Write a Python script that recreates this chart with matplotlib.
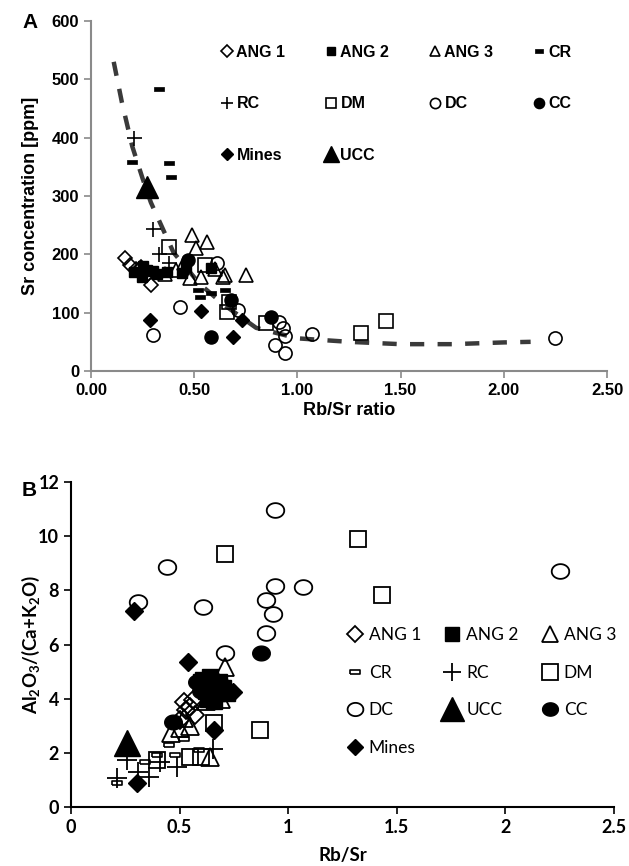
import matplotlib
matplotlib.use("Agg")
import matplotlib.pyplot as plt
import numpy as np

plt.rcParams['mathtext.fontset'] = 'custom'
plt.rcParams['mathtext.rm'] = 'Lato:bold'
plt.rcParams['mathtext.it'] = 'Lato:bold'
plt.rcParams['mathtext.bf'] = 'Lato:bold'

# ---------------- Panel A data (Rb/Sr ratio vs Sr ppm) ----------------
a_ang1_x = [0.165, 0.19, 0.22, 0.24, 0.27, 0.29]
a_ang1_y = [193, 182, 175, 179, 165, 147]
a_ang2_x = [0.21, 0.245, 0.27, 0.32, 0.37, 0.44, 0.46, 0.58, 0.25, 0.30]
a_ang2_y = [170, 162, 173, 167, 170, 168, 179, 177, 180, 172]
a_ang3_x = [0.36, 0.41, 0.48, 0.49, 0.51, 0.535, 0.56, 0.65, 0.64, 0.75, 0.45, 0.60]
a_ang3_y = [167, 173, 159, 233, 211, 162, 222, 165, 162, 165, 185, 175]
a_cr_x = [0.33, 0.20, 0.38, 0.39, 0.52, 0.53, 0.58, 0.65]
a_cr_y = [483, 359, 356, 332, 139, 127, 133, 139]
a_rc_x = [0.21, 0.30, 0.33, 0.38]
a_rc_y = [400, 244, 201, 185]
a_dm_x = [0.38, 0.55, 0.67, 0.66, 0.85, 1.31, 1.43]
a_dm_y = [213, 182, 119, 102, 82, 65, 86]
a_dc_x = [0.30, 0.43, 0.61, 0.91, 0.93, 0.94, 0.89, 0.94, 1.07, 2.25, 0.71]
a_dc_y = [62, 110, 185, 84, 74, 60, 45, 31, 64, 57, 105]
a_cc_x = [0.47, 0.58, 0.68, 0.87]
a_cc_y = [190, 59, 122, 93]
a_mines_x = [0.285, 0.535, 0.69, 0.73]
a_mines_y = [87, 103, 59, 87]
a_ucc_x = [0.27]
a_ucc_y = [316]
# trend curve
a_fit_x = [0.11, 0.15, 0.20, 0.25, 0.29, 0.40, 0.53, 0.65, 0.80, 1.00, 1.25, 1.50, 1.75, 2.00, 2.13]
a_fit_y = [530, 460, 385, 330, 289, 203, 148, 112, 74, 56, 50, 46, 46, 49, 50]

# ---------------- Panel B data (Rb/Sr vs Al2O3/(Ca+K2O)) ----------------
b_ang1_x = [0.52, 0.53, 0.55, 0.57, 0.50, 0.56]
b_ang1_y = [3.89, 3.58, 3.70, 3.40, 3.20, 3.95]
b_ang2_x = [0.60, 0.62, 0.65, 0.67, 0.63, 0.68, 0.70, 0.66, 0.72, 0.61, 0.64]
b_ang2_y = [4.60, 4.30, 4.50, 4.20, 4.00, 4.60, 4.40, 3.90, 4.20, 4.70, 4.80]
b_ang3_x = [0.71, 0.46, 0.64, 0.50, 0.55, 0.62, 0.72, 0.69, 0.52]
b_ang3_y = [5.18, 2.73, 1.86, 2.90, 3.00, 3.90, 4.40, 4.00, 3.30]
b_cr_x = [0.21, 0.34, 0.395, 0.48, 0.59, 0.45, 0.52]
b_cr_y = [0.87, 1.67, 1.92, 1.92, 2.10, 2.30, 2.50]
b_rc_x = [0.256, 0.21, 0.31, 0.36, 0.41, 0.49, 0.655]
b_rc_y = [1.73, 1.06, 1.30, 1.12, 1.67, 1.49, 2.16]
b_dm_x = [0.71, 1.32, 1.43, 0.87, 0.395, 0.55, 0.66, 0.60]
b_dm_y = [9.36, 9.91, 7.82, 2.84, 1.73, 1.86, 3.09, 1.86]
b_dc_x = [0.94, 0.44, 0.94, 1.07, 0.31, 0.61, 0.90, 0.93, 0.90, 2.25, 0.71]
b_dc_y = [10.96, 8.87, 8.15, 8.13, 7.58, 7.39, 7.64, 7.12, 6.41, 8.72, 5.67]
b_ucc_x = [0.26]
b_ucc_y = [2.35]
b_cc_x = [0.875, 0.47, 0.58, 0.60, 0.66]
b_cc_y = [5.69, 3.15, 4.60, 4.30, 4.70]
b_mines_x = [0.29, 0.54, 0.305, 0.66, 0.745]
b_mines_y = [7.23, 5.36, 0.87, 2.84, 4.25]

rect = [(-1, -0.45), (1, -0.45), (1, 0.45), (-1, 0.45), (-1, -0.45)]
_t = np.linspace(0, 2 * np.pi, 41)
ellipse = list(zip(np.cos(_t), 0.84 * np.sin(_t)))

W, H = 629, 866
fig = plt.figure(figsize=(W / 100, H / 100), dpi=100)

# ================= Panel A =================
fa = 'Liberation Sans'
axA = fig.add_axes([91 / W, 1 - 371 / H, (607 - 91) / W, (371 - 21) / H])
gray = '#8a8a8a'
axA.plot(a_fit_x, a_fit_y, color='#3a3a3a', lw=3.2, ls=(0, (3.2, 3.0)), zorder=1)

ms = 9
hA = {}
hA['ANG 1'] = axA.plot(a_ang1_x, a_ang1_y, ls='none', marker='D', ms=ms * 0.8, mfc='none', mec='k', mew=1.2)[0]
hA['ANG 2'] = axA.plot(a_ang2_x, a_ang2_y, ls='none', marker='s', ms=ms * 0.85, mfc='k', mec='k')[0]
hA['ANG 3'] = axA.plot(a_ang3_x, a_ang3_y, ls='none', marker='^', ms=ms * 1.1, mfc='none', mec='k', mew=1.2)[0]
hA['CR'] = axA.plot(a_cr_x, a_cr_y, ls='none', marker=rect, ms=ms * 0.75, mfc='k', mec='k', mew=0.5)[0]
hA['RC'] = axA.plot(a_rc_x, a_rc_y, ls='none', marker='+', ms=ms * 1.2, mec='k', mew=1.2)[0]
hA['DM'] = axA.plot(a_dm_x, a_dm_y, ls='none', marker='s', ms=ms * 1.05, mfc='none', mec='k', mew=1.2)[0]
hA['DC'] = axA.plot(a_dc_x, a_dc_y, ls='none', marker='o', ms=ms * 1.05, mfc='none', mec='k', mew=1.2)[0]
hA['CC'] = axA.plot(a_cc_x, a_cc_y, ls='none', marker='o', ms=ms * 1.05, mfc='k', mec='k')[0]
hA['Mines'] = axA.plot(a_mines_x, a_mines_y, ls='none', marker='D', ms=ms * 0.8, mfc='k', mec='k')[0]
hA['UCC'] = axA.plot(a_ucc_x, a_ucc_y, ls='none', marker='^', ms=ms * 1.7, mfc='k', mec='k')[0]

axA.set_xlim(0, 2.5)
axA.set_ylim(0, 600)
axA.set_xticks([0, 0.5, 1.0, 1.5, 2.0, 2.5])
axA.set_xticklabels(['0.00', '0.50', '1.00', '1.50', '2.00', '2.50'])
axA.set_yticks(range(0, 601, 100))
for s in ['top', 'right']:
    axA.spines[s].set_visible(False)
for s in ['left', 'bottom']:
    axA.spines[s].set_color(gray)
    axA.spines[s].set_linewidth(1.5)
axA.tick_params(colors=gray, width=1.2, length=5, labelcolor='k', labelsize=12)
for lab in axA.get_xticklabels() + axA.get_yticklabels():
    lab.set_fontfamily(fa)
    lab.set_fontweight('bold')
axA.set_xlabel('Rb/Sr ratio', fontsize=13, fontweight='bold', family=fa)
axA.set_ylabel('Sr concentration [ppm]', fontsize=13, fontweight='bold', family=fa)
axA.xaxis.set_label_coords(0.5, -0.089)
axA.yaxis.set_label_coords(-0.101, 0.5)

orderA = ['ANG 1', 'RC', 'Mines', 'ANG 2', 'DM', 'UCC', 'ANG 3', 'DC', 'CR', 'CC']
legA = axA.legend([hA[k] for k in orderA], orderA, ncol=4, frameon=False,
                  loc='upper left', bbox_to_anchor=(222 / W, 1 - 45 / H),
                  bbox_transform=fig.transFigure,
                  prop={'family': fa, 'weight': 'bold', 'size': 11.5},
                  handlelength=0.6, handletextpad=0.3, columnspacing=2.55,
                  labelspacing=2.28, borderaxespad=0, borderpad=0, markerscale=0.78)

fig.text(22 / W, 1 - 22 / H, 'A', fontsize=15, fontweight='bold', family=fa, va='center', ha='left')

# ================= Panel B =================
fb = 'Lato'
axB = fig.add_axes([71 / W, 1 - 807 / H, (614 - 71) / W, (807 - 482) / H])
mb = 11
hB = {}
hB['ANG 1'] = axB.plot(b_ang1_x, b_ang1_y, ls='none', marker='D', ms=mb * 0.8, mfc='none', mec='k', mew=1.3)[0]
hB['ANG 2'] = axB.plot(b_ang2_x, b_ang2_y, ls='none', marker='s', ms=mb * 1.0, mfc='k', mec='k')[0]
hB['ANG 3'] = axB.plot(b_ang3_x, b_ang3_y, ls='none', marker='^', ms=mb * 1.2, mfc='none', mec='k', mew=1.3)[0]
hB['CR'] = axB.plot(b_cr_x, b_cr_y, ls='none', marker=rect, ms=mb * 0.7, mfc='none', mec='k', mew=1.2)[0]
hB['RC'] = axB.plot(b_rc_x, b_rc_y, ls='none', marker='+', ms=mb * 1.3, mec='k', mew=1.3)[0]
hB['DM'] = axB.plot(b_dm_x, b_dm_y, ls='none', marker='s', ms=mb * 1.1, mfc='none', mec='k', mew=1.3)[0]
hB['DC'] = axB.plot(b_dc_x, b_dc_y, ls='none', marker=ellipse, ms=mb * 1.15, mfc='none', mec='k', mew=1.3)[0]
hB['UCC'] = axB.plot(b_ucc_x, b_ucc_y, ls='none', marker='^', ms=mb * 1.7, mfc='k', mec='k')[0]
hB['CC'] = axB.plot(b_cc_x, b_cc_y, ls='none', marker=ellipse, ms=mb * 1.15, mfc='k', mec='k')[0]
hB['Mines'] = axB.plot(b_mines_x, b_mines_y, ls='none', marker='D', ms=mb * 0.8, mfc='k', mec='k')[0]

axB.set_xlim(0, 2.5)
axB.set_ylim(0, 12)
axB.set_xticks([0, 0.5, 1, 1.5, 2, 2.5])
axB.set_xticklabels(['0', '0.5', '1', '1.5', '2', '2.5'])
axB.set_yticks(range(0, 13, 2))
for s in ['top', 'right']:
    axB.spines[s].set_visible(False)
for s in ['left', 'bottom']:
    axB.spines[s].set_color('k')
    axB.spines[s].set_linewidth(1.5)
axB.tick_params(colors='k', width=1.2, length=5, labelsize=13)
for lab in axB.get_xticklabels() + axB.get_yticklabels():
    lab.set_fontfamily(fb)
    lab.set_fontweight('bold')
axB.set_xlabel('Rb/Sr', fontsize=13.5, fontweight='bold', family=fb)
axB.set_ylabel(r'Al$_2$O$_3$/(Ca+K$_2$O)', fontsize=13.5, fontweight='bold', family=fb)
axB.xaxis.set_label_coords(0.5, -0.123)
axB.yaxis.set_label_coords(-0.0534, 0.5)

orderB = ['ANG 1', 'CR', 'DC', 'Mines', 'ANG 2', 'RC', 'UCC', 'ANG 3', 'DM', 'CC']
legB = axB.legend([hB[k] for k in orderB], orderB, ncol=3, frameon=False,
                  loc='upper left', bbox_to_anchor=(348 / W, 1 - 627 / H),
                  bbox_transform=fig.transFigure,
                  prop={'family': fb, 'size': 12.5},
                  handlelength=0.8, handletextpad=0.4, columnspacing=1.4,
                  labelspacing=1.25, borderaxespad=0, borderpad=0, markerscale=0.9)

fig.text(22 / W, 1 - 490 / H, 'B', fontsize=15, fontweight='bold', family=fa, va='center', ha='left')

fig.savefig('out.png', dpi=100)
